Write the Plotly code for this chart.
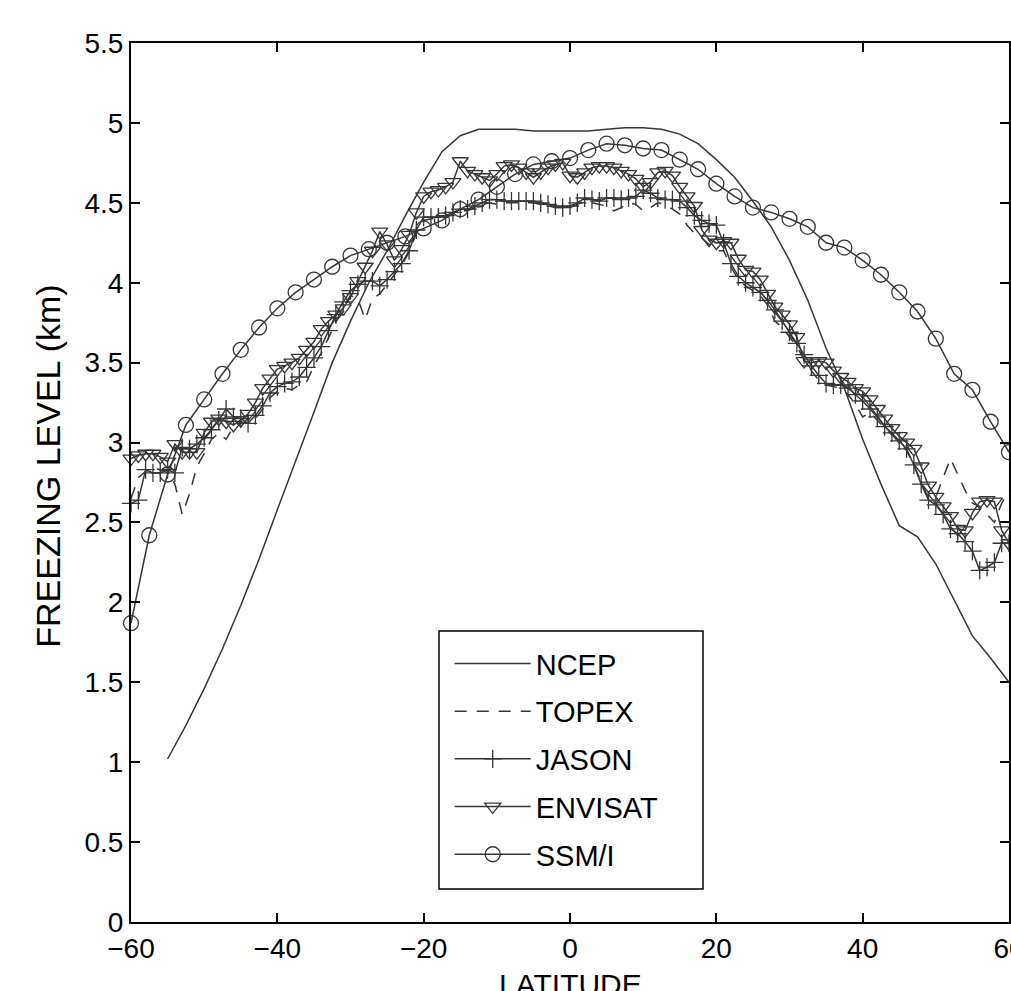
import plotly.graph_objects as go

# ---------------- data ----------------
lat_1deg = list(range(-60, 61))

envisat = [2.90, 2.92, 2.93, 2.93, 2.91, 2.88, 2.99, 2.94, 2.94, 2.94,
           3.06, 3.13, 3.15, 3.13, 3.11, 3.14, 3.18, 3.25, 3.34, 3.40,
           3.46, 3.48, 3.50, 3.53, 3.58, 3.63, 3.71, 3.76, 3.80, 3.84,
           3.91, 4.01, 4.10, 4.20, 4.32, 4.24, 4.14, 4.21, 4.30, 4.44,
           4.54, 4.57, 4.58, 4.60, 4.63, 4.76, 4.70, 4.68, 4.66, 4.64,
           4.68, 4.73, 4.74, 4.72, 4.69, 4.66, 4.69, 4.72, 4.74, 4.75,
           4.67, 4.66, 4.69, 4.72, 4.73, 4.73, 4.72, 4.70, 4.68, 4.65,
           4.60, 4.63, 4.69, 4.70, 4.67, 4.60, 4.54, 4.48, 4.33, 4.27,
           4.25, 4.26, 4.25, 4.15, 4.08, 4.07, 4.02, 3.93, 3.85, 3.80,
           3.74, 3.66, 3.51, 3.50, 3.51, 3.50, 3.45, 3.41, 3.38, 3.34,
           3.32, 3.27, 3.21, 3.15, 3.09, 3.04, 3.00, 2.96, 2.85, 2.73,
           2.66, 2.60, 2.54, 2.46, 2.45, 2.56, 2.63, 2.64, 2.63, 2.45,
           2.37]

jason = [2.62, 2.64, 2.83, 2.81, 2.81, 2.83, 2.81, 2.97, 2.96, 2.99,
         3.03, 3.08, 3.14, 3.21, 3.16, 3.15, 3.12, 3.17, 3.23, 3.31,
         3.35, 3.37, 3.38, 3.41, 3.47, 3.53, 3.60, 3.70, 3.80, 3.88,
         3.95, 3.99, 4.01, 4.01, 3.98, 4.02, 4.07, 4.12, 4.20, 4.33,
         4.41, 4.41, 4.41, 4.42, 4.44, 4.46, 4.46, 4.48, 4.50, 4.52,
         4.52, 4.51, 4.51, 4.51, 4.51, 4.51, 4.50, 4.49, 4.48, 4.47,
         4.48, 4.50, 4.53, 4.52, 4.51, 4.53, 4.53, 4.52, 4.53, 4.54,
         4.58, 4.56, 4.53, 4.52, 4.52, 4.51, 4.47, 4.42, 4.39, 4.37,
         4.36, 4.25, 4.12, 4.04, 4.00, 3.97, 3.94, 3.89, 3.83, 3.76,
         3.69, 3.62, 3.55, 3.48, 3.42, 3.37, 3.36, 3.36, 3.34, 3.30,
         3.26, 3.21, 3.16, 3.10, 3.06, 3.01, 2.96, 2.86, 2.74, 2.64,
         2.61, 2.55, 2.46, 2.43, 2.38, 2.32, 2.20, 2.22, 2.25, 2.37,
         2.37]

topex = [2.65, 2.78, 2.82, 2.84, 2.83, 2.82, 2.74, 2.55, 2.68, 2.85,
         2.93, 3.02, 3.06, 3.02, 3.10, 3.13, 3.12, 3.15, 3.21, 3.28,
         3.32, 3.34, 3.33, 3.36, 3.38, 3.48, 3.56, 3.66, 3.76, 3.85,
         3.92, 3.90, 3.77, 3.90, 3.93, 3.99, 4.05, 4.11, 4.19, 4.31,
         4.39, 4.40, 4.40, 4.41, 4.43, 4.45, 4.45, 4.47, 4.49, 4.50,
         4.49, 4.50, 4.50, 4.50, 4.50, 4.50, 4.49, 4.48, 4.47, 4.47,
         4.47, 4.49, 4.51, 4.50, 4.49, 4.48, 4.45, 4.47, 4.50, 4.49,
         4.45, 4.47, 4.50, 4.49, 4.46, 4.43, 4.36, 4.31, 4.28, 4.24,
         4.20, 4.20, 4.10, 4.02, 3.98, 3.95, 3.92, 3.86, 3.76, 3.72,
         3.66, 3.60, 3.52, 3.45, 3.39, 3.36, 3.35, 3.34, 3.30, 3.24,
         3.16, 3.19, 3.14, 3.09, 3.05, 3.00, 2.95, 2.86, 2.75, 2.65,
         2.66, 2.78, 2.90, 2.80, 2.70, 2.62, 2.60, 2.55, 2.50, 2.62,
         2.70]

ncep_lat = [-55, -52.5, -50, -47.5, -45, -42.5, -40, -37.5, -35, -32.5,
            -30, -27.5, -25, -22.5, -20, -17.5, -15, -12.5, -10, -7.5,
            -5, -2.5, 0, 2.5, 5, 7.5, 10, 12.5, 15, 17.5,
            20, 22.5, 25, 27.5, 30, 32.5, 35, 37.5, 40, 42.5,
            45, 47.5, 50, 52.5, 55, 57.5, 60]
ncep = [1.02, 1.23, 1.46, 1.71, 1.98, 2.27, 2.58, 2.88, 3.19, 3.50,
        3.76, 4.00, 4.20, 4.42, 4.63, 4.82, 4.92, 4.96, 4.96, 4.96,
        4.95, 4.95, 4.95, 4.95, 4.96, 4.97, 4.97, 4.96, 4.93, 4.87,
        4.77, 4.66, 4.51, 4.35, 4.14, 3.89, 3.59, 3.34, 3.02, 2.74,
        2.48, 2.41, 2.24, 2.01, 1.79, 1.65, 1.50]

ssmi_lat = [-60 + 2.5 * i for i in range(49)]
ssmi = [1.87, 2.42, 2.80, 3.11, 3.27, 3.43, 3.58, 3.72, 3.84, 3.94,
        4.02, 4.10, 4.17, 4.21, 4.25, 4.29, 4.34, 4.39, 4.46, 4.52,
        4.60, 4.68, 4.74, 4.76, 4.78, 4.83, 4.87, 4.86, 4.84, 4.83,
        4.77, 4.71, 4.62, 4.54, 4.47, 4.44, 4.40, 4.35, 4.25, 4.22,
        4.14, 4.05, 3.94, 3.82, 3.65, 3.43, 3.33, 3.13, 2.94]

x_ticks = [-60, -40, -20, 0, 20, 40, 60]
y_ticks = [0, 0.5, 1, 1.5, 2, 2.5, 3, 3.5, 4, 4.5, 5, 5.5]
y_ticktext = ["0", "0.5", "1", "1.5", "2", "2.5", "3", "3.5", "4", "4.5", "5", "5.5"]

# ---------------- styling ----------------
LC = "#363636"
LW = 1.5
FONT = "Liberation Sans, Arial, Helvetica, sans-serif"

fig = go.Figure()

fig.add_trace(go.Scatter(x=ncep_lat, y=ncep, mode="lines", name="NCEP",
                         legendgroup="a",
                         line=dict(color=LC, width=LW)))
fig.add_trace(go.Scatter(x=lat_1deg, y=topex, mode="lines", name="TOPEX",
                         legendgroup="b",
                         line=dict(color=LC, width=LW, dash="12px,10px")))
fig.add_trace(go.Scatter(x=lat_1deg, y=jason, mode="lines+markers", name="JASON",
                         legendgroup="c", cliponaxis=False,
                         line=dict(color=LC, width=LW),
                         marker=dict(symbol="cross-thin-open", size=13, color=LC,
                                     line=dict(color=LC, width=1.3))))
fig.add_trace(go.Scatter(x=lat_1deg, y=envisat, mode="lines+markers", name="ENVISAT",
                         legendgroup="d", cliponaxis=False,
                         line=dict(color=LC, width=LW),
                         marker=dict(symbol="triangle-down-open", size=14, color=LC,
                                     line=dict(color=LC, width=1.3))))
fig.add_trace(go.Scatter(x=ssmi_lat, y=ssmi, mode="lines+markers", name="SSM/I",
                         legendgroup="e", cliponaxis=False,
                         line=dict(color=LC, width=LW),
                         marker=dict(symbol="circle-open", size=15, color=LC,
                                     line=dict(color=LC, width=1.3))))

axis_common = dict(showline=True, linecolor="black", linewidth=2, mirror="ticks",
                   ticks="inside", ticklen=9, tickwidth=1.5, tickcolor="black",
                   showgrid=False, zeroline=False, automargin=False,
                   ticklabeloverflow="allow",
                   tickfont=dict(family=FONT, size=28, color="black"))

# plot area: x 131..1009 px, y 43..922 px
fig.update_layout(
    width=1011, height=991, autosize=False,
    margin=dict(l=131, r=2, t=43, b=69, pad=0, autoexpand=False),
    paper_bgcolor="white", plot_bgcolor="white",
    font=dict(family=FONT, color="black"),
    xaxis=dict(range=[-60, 60], tickvals=x_ticks, **axis_common),
    yaxis=dict(range=[0, 5.5], tickvals=y_ticks, ticktext=y_ticktext, **axis_common),
    showlegend=True,
    legend=dict(x=0.363, y=0.323, xanchor="left", yanchor="top",
                bgcolor="rgba(0,0,0,0)", borderwidth=0,
                font=dict(family=FONT, size=29, color="black"),
                itemwidth=76, tracegroupgap=7, traceorder="grouped"),
    shapes=[
        dict(type="rect", xref="paper", yref="paper",
             x0=(439 - 131) / 878, x1=(703 - 131) / 878,
             y0=(922 - 889) / 879, y1=(922 - 631) / 879,
             line=dict(color="black", width=1.5), fillcolor="white", layer="below"),
    ],
    annotations=[
        dict(text="LATITUDE", x=0.5, xref="paper", y=-0.0505, yref="paper",
             xanchor="center", yanchor="top", showarrow=False,
             font=dict(family=FONT, size=30, color="black")),
        dict(text="FREEZING LEVEL (km)", x=-0.0945, xref="paper", y=0.518, yref="paper",
             xanchor="center", yanchor="middle", textangle=-90, showarrow=False,
             font=dict(family=FONT, size=34, color="black")),
    ],
)

post = ("document.documentElement.style.margin='0';"
        "document.body.style.margin='0';document.body.style.padding='0';"
        "document.body.style.overflow='hidden';"
        "var gd=document.getElementById('{plot_id}');"
        "Plotly.relayout(gd,{width:1011,height:991});")

fig.write_html("out.html", config={"responsive": False, "displayModeBar": False},
               post_script=post)
